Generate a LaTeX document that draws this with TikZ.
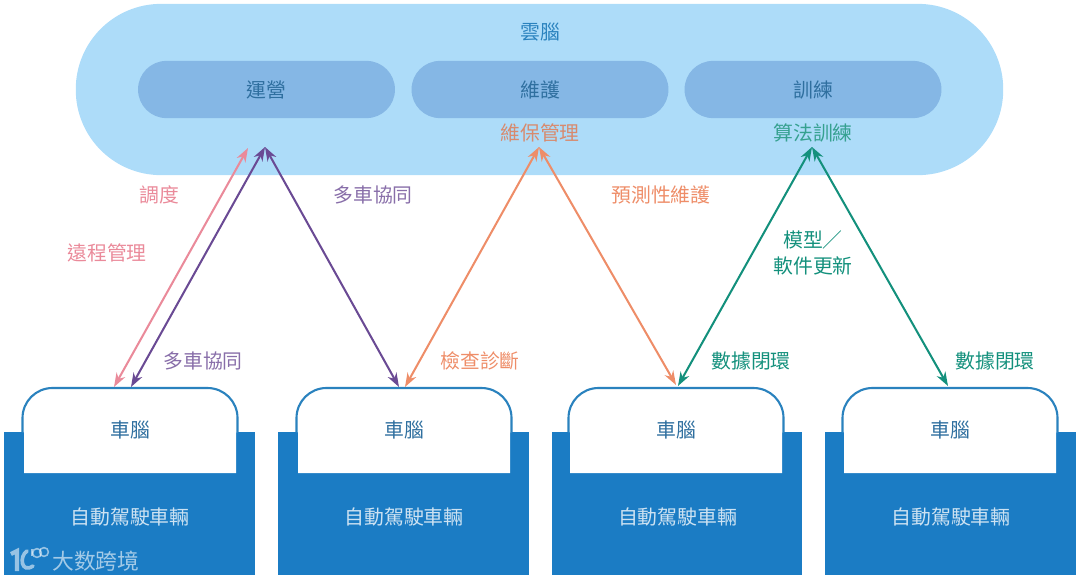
\documentclass[tikz,border=0pt]{standalone}
\usepackage{fontspec}
\setmainfont{Noto Sans CJK TC}
\usetikzlibrary{arrows.meta}
\definecolor{cloudBlue}{HTML}{ADDCF9}
\definecolor{pillBlue}{HTML}{85B7E5}
\definecolor{carBlue}{HTML}{1B7CC4}
\definecolor{edgeBlue}{HTML}{2A82BE}
\definecolor{inkBlue}{HTML}{2F6F9F}
\definecolor{pinkLine}{HTML}{EA8A9A}
\definecolor{purpleLine}{HTML}{6A4A94}
\definecolor{orangeLine}{HTML}{EE8D68}
\definecolor{greenLine}{HTML}{13907C}
\tikzset{
    cjk/.style={font=\fontsize{14.1}{18.5}\selectfont, align=center},
    pill/.style={cjk, fill=pillBlue, text=inkBlue, minimum width=6.42cm, minimum height=1.43cm, rounded corners=0.71cm},
    vehicle/.style={fill=carBlue, minimum width=6.27cm, minimum height=3.58cm, inner sep=0pt},
    link/.style={line width=1.45pt, {Stealth[length=10pt,width=7pt]}-{Stealth[length=10pt,width=7pt]}},
}
\newcommand{\carUnit}[3]{%
    \node[vehicle] (#1Car) at (#2+125.5,503.5) {};
    \node[cjk, text=white!78!carBlue] (#1CarText) at (#2+126,517) {自動駕駛車輛};
    \fill[white] (#3+1.5,473) -- (#3+1.5,432) -- (#3,432) -- (#3,418) arc[start angle=180, end angle=90, radius=0.75cm] -- (#3+185,388) arc[start angle=90, end angle=0, radius=0.75cm] -- (#3+215,432) -- (#3+213.5,432) -- (#3+213.5,473) -- cycle;
    \draw[edgeBlue, line width=1.5pt] (#3,432) -- (#3,418) arc[start angle=180, end angle=90, radius=0.75cm] -- (#3+185,388) arc[start angle=90, end angle=0, radius=0.75cm] -- (#3+215,432);
    \node[cjk, text=inkBlue] (#1Brain) at (#3+107.5,430) {車腦};
}
\begin{document}
\begin{tikzpicture}[x=0.025cm, y=-0.025cm]
    \useasboundingbox (0,0) rectangle (1080,580);

    % --- cloud ---
    \node[fill=cloudBlue, minimum width=23.18cm, minimum height=4.28cm, rounded corners=2.13cm] (cloud) at (539.5,89.5) {};
    \node[cjk, text=edgeBlue] (cloudText) at (540,32) {雲腦};
    \node[pill] (ops) at (266.5,89.5) {運營};
    \node[pill] (maint) at (540,89.5) {維護};
    \node[pill] (train) at (813,89.5) {訓練};
    \node[cjk, text=orangeLine!80!gray] (maintText) at (540,133) {維保管理};
    \node[cjk, text=greenLine!85!white] (trainText) at (813,133) {算法訓練};

    % --- vehicles ---
    \carUnit{a}{4}{22.5}
    \carUnit{b}{278}{296.5}
    \carUnit{c}{551.5}{568.5}
    \carUnit{d}{825}{842.5}

    % --- link ends ---
    \coordinate (opsPink) at (248,148);
    \coordinate (opsTip) at (265,147);
    \coordinate (maintTip) at (539,147);
    \coordinate (trainTip) at (812,147);
    \coordinate (aPink) at (114,387);
    \coordinate (aPurple) at (131,387);
    \coordinate (bPurple) at (399,387);
    \coordinate (bOrange) at (405,387);
    \coordinate (cOrange) at (676,385);
    \coordinate (cGreen) at (678,386);
    \coordinate (dGreen) at (948,386);

    % --- links ---
    \draw[link, pinkLine] (opsPink) -- (aPink);
    \draw[link, purpleLine] (opsTip) -- (aPurple);
    \draw[link, purpleLine] (opsTip) -- (bPurple);
    \draw[link, orangeLine] (maintTip) -- (bOrange);
    \draw[link, orangeLine] (maintTip) -- (cOrange);
    \draw[link, greenLine] (trainTip) -- (cGreen);
    \draw[link, greenLine] (trainTip) -- (dGreen);

    % --- link labels ---
    \node[cjk, text=pinkLine] (dispatchText) at (159,195) {調度};
    \node[cjk, text=pinkLine] (remoteText) at (107,253) {遠程管理};
    \node[cjk, text=purpleLine!80!white] (fleetTextA) at (203,361) {多車協同};
    \node[cjk, text=purpleLine!80!white] (fleetTextB) at (373,195) {多車協同};
    \node[cjk, text=orangeLine] (checkText) at (480,361) {檢查診斷};
    \node[cjk, text=orangeLine] (predictText) at (661,195) {預測性維護};
    \node[cjk, text=greenLine, inner sep=0pt] (modelText) at (813,253) {模型／\\軟件更新};
    \node[cjk, text=greenLine] (dataTextA) at (751,361) {數據閉環};
    \node[cjk, text=greenLine] (dataTextB) at (995,361) {數據閉環};

    % --- watermark ---
    \draw[white, opacity=0.55, line width=3pt] (11,554) -- (17,551) -- (17,571);
    \draw[white, opacity=0.55, line width=2.6pt, line cap=round] (27,551) .. controls (19,556) and (21,574) .. (33,566);
    \draw[white, opacity=0.55, line width=1.1pt] (32,556) -- (32,549);
    \draw[white, opacity=0.55, line width=1.1pt] (37,553) circle (0.11cm);
    \draw[white, opacity=0.55, line width=1.1pt] (44,552) circle (0.11cm);
    \node[text=white, opacity=0.6, font=\fontsize{15.5}{18}\selectfont] (markText) at (96,561) {大数跨境};
\end{tikzpicture}
\end{document}
